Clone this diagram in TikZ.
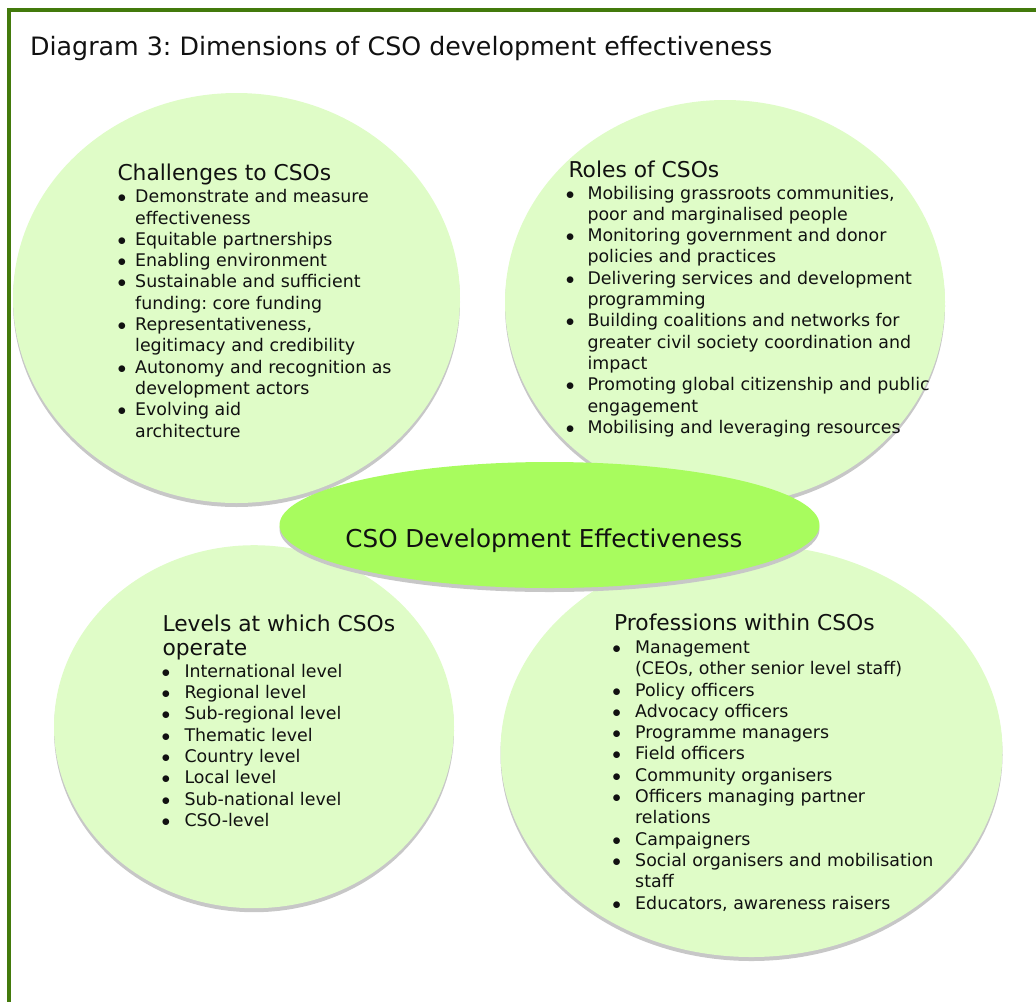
\documentclass[tikz,border=0pt]{standalone}
\usepackage{fontspec}
\setmainfont{DejaVu Sans}
\usetikzlibrary{shapes.geometric,shadows}
\frenchspacing

\definecolor{framegreen}{HTML}{437A0C}
\definecolor{paleleaf}{HTML}{DFFCC7}
\definecolor{limeleaf}{HTML}{A8FC5E}
\definecolor{inktext}{HTML}{111111}

% bullet column width, then the rows
\newcommand{\itemlist}[2]{\begin{tabular}[t]{@{}p{#1}@{}l@{}}#2\end{tabular}}
\newcommand{\listdot}{$\bullet$}

\begin{document}
\begin{tikzpicture}[x=1pt,y=-1pt,
    bubble/.style={ellipse,fill=paleleaf,inner sep=0pt,
      drop shadow={shadow xshift=0pt,shadow yshift=-4pt,fill=black!22,opacity=1}},
    hub/.style={bubble,fill=limeleaf},
    heading/.style={anchor=base west,inner sep=0pt,text=inktext,
      font=\fontsize{21.8}{23.3}\selectfont},
    listtext/.style={anchor=base west,inner sep=0pt,text=inktext,
      font=\fontsize{17.4}{21.3}\selectfont}]

  \useasboundingbox (0,0) rectangle (1036,1002);
  \draw[line width=3.8pt,framegreen] (1036,10.3) -- (9.2,10.3) -- (9.2,1002);

  \node[anchor=base west,inner sep=0pt,text=inktext,font=\fontsize{25.3}{30}\selectfont]
    (title) at (30,55) {Diagram 3: Dimensions of CSO development effectiveness};

  % challenges
  \node[bubble,minimum width=447pt,minimum height=410pt] (challenges) at (236.5,298) {};
  \node[heading] (challenges-head) at (117.3,180) {Challenges to CSOs};
  \node[listtext] (challenges-list) at (117.4,202.7) {\itemlist{17.6pt}{%
    \listdot & Demonstrate and measure\\
             & effectiveness\\
    \listdot & Equitable partnerships\\
    \listdot & Enabling environment\\
    \listdot & Sustainable and sufficient\\
             & funding: core funding\\
    \listdot & Representativeness,\\
             & legitimacy and credibility\\
    \listdot & Autonomy and recognition as\\
             & development actors\\
    \listdot & Evolving aid\\
             & architecture}};

  % roles
  \node[bubble,minimum width=440pt,minimum height=404pt] (roles) at (725,302) {};
  \node[heading] (roles-head) at (568.3,177.3) {Roles of CSOs};
  \node[listtext] (roles-list) at (565.7,199) {\itemlist{21.6pt}{%
    \listdot & Mobilising grassroots communities,\\
             & poor and marginalised people\\
    \listdot & Monitoring government and donor\\
             & policies and practices\\
    \listdot & Delivering services and development\\
             & programming\\
    \listdot & Building coalitions and networks for\\
             & greater civil society coordination and\\
             & impact\\
    \listdot & Promoting global citizenship and public\\
             & engagement\\
    \listdot & Mobilising and leveraging resources}};

  % levels
  \node[bubble,minimum width=400pt,minimum height=363pt] (levels) at (254,726.7) {};
  \node[heading] (levels-head) at (162.3,631.7)
    {\begin{tabular}[t]{@{}l@{}}Levels at which CSOs\\operate\end{tabular}};
  \node[listtext] (levels-list) at (161.4,677.3) {\itemlist{22.9pt}{%
    \listdot & International level\\
    \listdot & Regional level\\
    \listdot & Sub-regional level\\
    \listdot & Thematic level\\
    \listdot & Country level\\
    \listdot & Local level\\
    \listdot & Sub-national level\\
    \listdot & CSO-level}};

  % professions
  \node[bubble,minimum width=502pt,minimum height=412pt] (professions) at (751.5,751) {};
  \node[heading] (professions-head) at (614,630.7) {Professions within CSOs};
  \node[listtext] (professions-list) at (612.2,653.4) {\itemlist{22.8pt}{%
    \listdot & Management\\
             & (CEOs, other senior level staff)\\
    \listdot & Policy officers\\
    \listdot & Advocacy officers\\
    \listdot & Programme managers\\
    \listdot & Field officers\\
    \listdot & Community organisers\\
    \listdot & Officers managing partner\\
             & relations\\
    \listdot & Campaigners\\
    \listdot & Social organisers and mobilisation\\
             & staff\\
    \listdot & Educators, awareness raisers}};

  % centre
  \node[hub,minimum width=540pt,minimum height=126pt] (core) at (549.5,525) {};
  \node[anchor=base,inner sep=0pt,text=inktext,font=\fontsize{24.6}{29}\selectfont]
    (core-label) at (544,547) {CSO Development Effectiveness};

\end{tikzpicture}
\end{document}
